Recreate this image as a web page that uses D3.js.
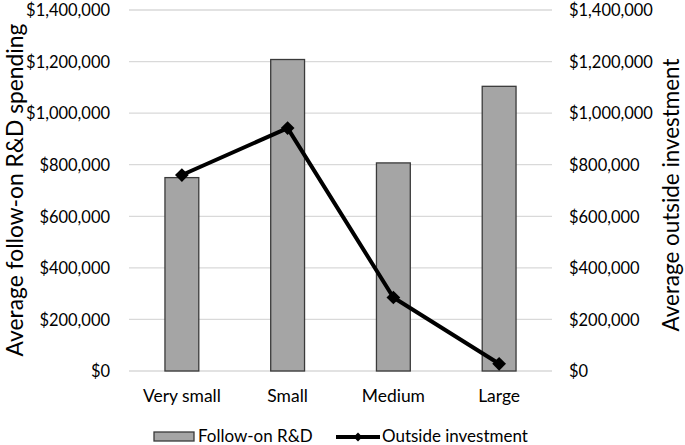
<!DOCTYPE html>
<html><head><meta charset="utf-8">
<script src="https://cdn.jsdelivr.net/npm/d3@7"></script>
<style>body{margin:0;background:#fff}svg{display:block}text{font-family:Lato,"Open Sans",sans-serif;fill:#000}</style>
</head><body>
<script>
const categories = ["Very small", "Small", "Medium", "Large"];
const followOnRD = [750000, 1208000, 807000, 1104000];
const outsideInvestment = [760000, 942000, 285000, 28000];
const tickValues = [0, 200000, 400000, 600000, 800000, 1000000, 1200000, 1400000];

const W = 685, H = 445;
const m = {left: 129, right: 133, top: 10, bottom: 74};
const svg = d3.select("body").append("svg").attr("width", W).attr("height", H);

// font size that makes a sample string span a given width
function sizeFor(str, width) {
  const t = svg.append("text").style("font-size", "20px").text(str);
  const len = t.node().getComputedTextLength();
  t.remove();
  return 20 * width / len;
}
const fsTick = sizeFor("$1,400,000", 84);
const fsCat = sizeFor("Very small", 78);
const fsLeg = sizeFor("Outside investment", 146);
const fsTitleL = sizeFor("Average follow-on R&D spending", 333);
const fsTitleR = sizeFor("Average outside investment", 273);

const x = d3.scaleBand().domain(categories).range([m.left, W - m.right]).paddingInner(0.68).paddingOuter(0.34);
const xc = d3.scaleBand().domain(categories).range([m.left, W - m.right]);
const yL = d3.scaleLinear().domain([0, 1400000]).range([H - m.bottom, m.top]);
const yR = d3.scaleLinear().domain([0, 1400000]).range([H - m.bottom, m.top]);
const fmt = v => "$" + d3.format(",")(v);

// gridlines
svg.append("g").selectAll("line").data(tickValues).join("line")
  .attr("x1", m.left).attr("x2", W - m.right)
  .attr("y1", d => yL(d)).attr("y2", d => yL(d))
  .attr("stroke", "#d9d9d9").attr("stroke-width", 1.3);

// left axis
const gl = svg.append("g").attr("transform", `translate(${m.left - 19},0)`)
  .call(d3.axisLeft(yL).tickValues(tickValues).tickFormat(fmt).tickSize(0).tickPadding(0));
gl.select(".domain").remove();
gl.selectAll("text").style("font-size", fsTick + "px").attr("dy", "0.35em");

// right axis
const gr = svg.append("g").attr("transform", `translate(${W - m.right + 17},0)`)
  .call(d3.axisRight(yR).tickValues(tickValues).tickFormat(fmt).tickSize(0).tickPadding(0));
gr.select(".domain").remove();
gr.selectAll("text").style("font-size", fsTick + "px").attr("dy", "0.35em");

// bars
svg.append("g").selectAll("rect").data(categories).join("rect")
  .attr("x", d => x(d)).attr("width", x.bandwidth())
  .attr("y", (d, i) => yL(followOnRD[i])).attr("height", (d, i) => yL(0) - yL(followOnRD[i]))
  .attr("fill", "#a5a5a5").attr("stroke", "#3a3a3a").attr("stroke-width", 1.3);

// line
const pts = categories.map((c, i) => [xc(c) + xc.bandwidth() / 2, yR(outsideInvestment[i])]);
svg.append("path").attr("d", d3.line()(pts)).attr("fill", "none").attr("stroke", "#000").attr("stroke-width", 4).attr("stroke-linejoin", "round");
const diamond = d3.symbol().type(d3.symbolDiamond2).size(120);
svg.append("g").selectAll("path").data(pts).join("path")
  .attr("d", diamond).attr("transform", d => `translate(${d[0]},${d[1]})`).attr("fill", "#000");

// x labels
svg.append("g").selectAll("text").data(categories).join("text")
  .attr("x", d => xc(d) + xc.bandwidth() / 2).attr("y", 396).attr("dy", "0.35em")
  .attr("text-anchor", "middle").style("font-size", fsCat + "px").text(d => d);

// axis titles
svg.append("text").attr("transform", `translate(15,190) rotate(-90)`)
  .attr("text-anchor", "middle").attr("dy", "0.35em").style("font-size", fsTitleL + "px").text("Average follow-on R&D spending");
svg.append("text").attr("transform", `translate(671,195) rotate(-90)`)
  .attr("text-anchor", "middle").attr("dy", "0.35em").style("font-size", fsTitleR + "px").text("Average outside investment");

// legend
const lg = svg.append("g");
lg.append("rect").attr("x", 154).attr("y", 432).attr("width", 40).attr("height", 9)
  .attr("fill", "#a5a5a5").attr("stroke", "#3a3a3a").attr("stroke-width", 1.3);
lg.append("text").attr("x", 198).attr("y", 436.5).attr("dy", "0.35em").style("font-size", fsLeg + "px").text("Follow-on R&D");
lg.append("line").attr("x1", 336).attr("x2", 380).attr("y1", 437).attr("y2", 437).attr("stroke", "#000").attr("stroke-width", 4);
lg.append("path").attr("d", d3.symbol().type(d3.symbolDiamond2).size(50)).attr("transform", "translate(358,437)").attr("fill", "#000");
lg.append("text").attr("x", 382).attr("y", 436.5).attr("dy", "0.35em").style("font-size", fsLeg + "px").text("Outside investment");
</script>
</body></html>
